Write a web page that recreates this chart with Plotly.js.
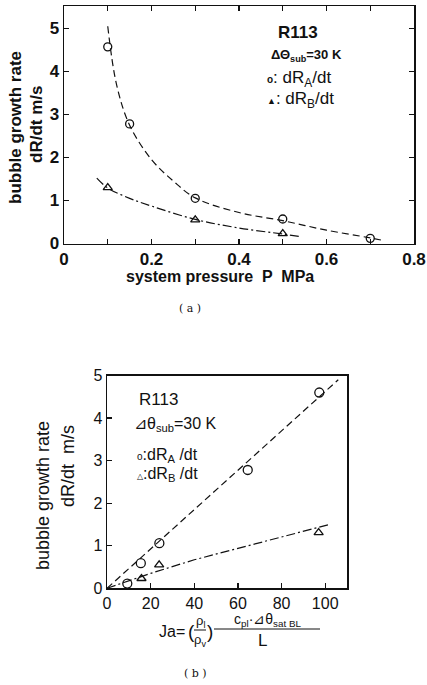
<!DOCTYPE html>
<html>
<head>
<meta charset="utf-8">
<script src="https://cdn.plot.ly/plotly-3.0.1.min.js"></script>
<style>html,body{margin:0;padding:0;background:#fff;}#chart{width:427px;height:685px;}</style>
</head>
<body>
<div id="chart"></div>
<script>
// ---- Panel (a): bubble growth rate vs system pressure ----
const pressureA = [0.10, 0.15, 0.30, 0.50, 0.70];
const rateA_vsP = [4.57, 2.78, 1.05, 0.57, 0.12];
const pressureB = [0.10, 0.30, 0.50];
const rateB_vsP = [1.30, 0.55, 0.23];
const curveA_P = [0.10, 0.12, 0.15, 0.20, 0.25, 0.30, 0.40, 0.50, 0.60, 0.70, 0.73];
const curveA_R = [5.05, 3.70, 2.75, 1.95, 1.45, 1.06, 0.72, 0.53, 0.31, 0.13, 0.07];
const curveB_P = [0.075, 0.10, 0.15, 0.20, 0.30, 0.40, 0.50, 0.54];
const curveB_R = [1.52, 1.29, 1.05, 0.87, 0.56, 0.36, 0.22, 0.16];
const xTickValsA = [0, 0.1, 0.2, 0.3, 0.4, 0.5, 0.6, 0.7, 0.8];
const xTickTextA = ["0", "", "0.2", "", "0.4", "", "0.6", "", "0.8"];
const yTickValsA = [0, 1, 2, 3, 4, 5];

// ---- Panel (b): bubble growth rate vs Jakob number ----
const jaA = [9.3, 15.5, 24.0, 64.5, 97.3];
const rateA_vsJa = [0.11, 0.59, 1.06, 2.78, 4.60];
const jaB = [15.8, 23.9, 97.0];
const rateB_vsJa = [0.23, 0.55, 1.31];
const lineA_Ja = [0, 106];
const lineA_R = [0, 4.9];
const lineB_Ja = [0, 20, 40, 60, 80, 102];
const lineB_R = [0, 0.35, 0.67, 0.94, 1.22, 1.50];
const xTickValsB = [0, 20, 40, 60, 80, 100];
const yTickValsB = [0, 1, 2, 3, 4, 5];

const fontA = {family: "Liberation Sans, Arial, sans-serif", size: 17, color: "#111", weight: "bold"};
const fontB = {family: "Liberation Sans, Arial, sans-serif", size: 16, color: "#111"};

const mk = (sym, sz) => ({symbol: sym, size: sz, color: "#111", line: {color: "#111", width: 1.3}});

const traces = [
  {x: curveA_P, y: curveA_R, xaxis: "x", yaxis: "y", mode: "lines", line: {color: "#111", width: 1.2, dash: "7px,4px", shape: "spline"}},
  {x: curveB_P, y: curveB_R, xaxis: "x", yaxis: "y", mode: "lines", line: {color: "#111", width: 1.2, dash: "9px,3px,2px,3px", shape: "spline"}},
  {x: pressureA, y: rateA_vsP, xaxis: "x", yaxis: "y", mode: "markers", marker: mk("circle-open", 8)},
  {x: pressureB, y: rateB_vsP, xaxis: "x", yaxis: "y", mode: "markers", marker: mk("triangle-up-open", 8)},
  {x: lineA_Ja, y: lineA_R, xaxis: "x2", yaxis: "y2", mode: "lines", line: {color: "#111", width: 1.2, dash: "7px,4px"}},
  {x: lineB_Ja, y: lineB_R, xaxis: "x2", yaxis: "y2", mode: "lines", line: {color: "#111", width: 1.2, dash: "9px,3px,2px,3px"}},
  {x: jaA, y: rateA_vsJa, xaxis: "x2", yaxis: "y2", mode: "markers", marker: mk("circle-open", 9)},
  {x: jaB, y: rateB_vsJa, xaxis: "x2", yaxis: "y2", mode: "markers", marker: mk("triangle-up-open", 8)}
];

const W = 427, H = 685;
const px = (v) => v / W;
const py = (v) => 1 - v / H;

const axisCommon = {showgrid: false, zeroline: false, showline: true, linecolor: "#111", linewidth: 1.5,
  ticks: "inside", ticklen: 5, tickwidth: 1.3, tickcolor: "#111", fixedrange: true};

const annA = (x, y, text, opts) => Object.assign({xref: "paper", yref: "paper", x: px(x), y: py(y), text: text,
  showarrow: false, xanchor: "center", yanchor: "middle", font: fontA}, opts || {});
const annB = (x, y, text, opts) => Object.assign({xref: "paper", yref: "paper", x: px(x), y: py(y), text: text,
  showarrow: false, xanchor: "center", yanchor: "middle", font: fontB}, opts || {});
const fb = (size) => Object.assign({}, fontB, {size: size});
const fa = (size) => Object.assign({}, fontA, {size: size});

const layout = {
  width: W, height: H,
  margin: {l: 0, r: 0, t: 0, b: 0},
  paper_bgcolor: "#fff", plot_bgcolor: "#fff",
  showlegend: false,
  xaxis: Object.assign({}, axisCommon, {domain: [px(64), px(414)], range: [0, 0.8], anchor: "y",
    tickvals: xTickValsA, ticktext: xTickTextA, mirror: "allticks", tickfont: fontA, ticklabelstandoff: 0}),
  yaxis: Object.assign({}, axisCommon, {domain: [py(243.5), py(6)], range: [0, 5.52], anchor: "x",
    tickvals: yTickValsA, mirror: "allticks", tickfont: fontA}),
  xaxis2: Object.assign({}, axisCommon, {domain: [px(107), px(347)], range: [0, 110], anchor: "y2",
    tickvals: xTickValsB, mirror: true, tickfont: fontB, ticklabelstandoff: 0}),
  yaxis2: Object.assign({}, axisCommon, {domain: [py(588.3), py(375.5)], range: [0, 5], anchor: "x2",
    tickvals: yTickValsB, mirror: true, tickfont: fontB}),
  annotations: [
    // panel (a)
    annA(15, 128, "bubble growth rate", {textangle: -90, font: fa(17)}),
    annA(36, 125, "dR/dt m/s", {textangle: -90, font: fa(17)}),
    annA(220, 277, "system pressure  P  MPa", {font: fa(16)}),
    annA(190, 308, "( a )", {font: {family: "DejaVu Serif, serif", size: 11, color: "#111"}}),
    annA(298, 33, "R113", {font: fa(17)}),
    annA(269, 55, "ΔΘ<sub>sub</sub>=30 K", {xanchor: "left", font: fa(13)}),
    annA(265, 79, "<span style='font-size:10px'><b>o</b></span>: dR<sub>A</sub>/dt", {xanchor: "left", font: fb(17)}),
    annA(265, 100, "<span style='font-size:9px'>▲</span>: dR<sub>B</sub>/dt", {xanchor: "left", font: fb(17)}),
    // panel (b)
    annB(43, 496, "bubble growth rate", {textangle: -90, font: fb(18)}),
    annB(68, 466, "dR/dt  m/s", {textangle: -90, font: fb(18)}),
    annB(158, 400, "R113", {font: fb(17)}),
    annB(132, 424, "⊿θ<sub>sub</sub>=30 K", {xanchor: "left", font: fb(16)}),
    annB(135, 455, "<span style='font-size:10px'>o</span>:dR<sub>A</sub> /dt", {xanchor: "left", font: fb(16)}),
    annB(135, 474, "<span style='font-size:8px'>△</span>:dR<sub>B</sub> /dt", {xanchor: "left", font: fb(16)}),
    annB(187, 631, "Ja=", {xanchor: "right", font: fb(16)}),
    annB(191, 631, "(", {font: fb(19)}),
    annB(200, 621, "ρ<sub>l</sub>", {font: fb(13)}),
    annB(200, 640, "ρ<sub>v</sub>", {font: fb(13)}),
    annB(210, 631, ")", {font: fb(19)}),
    annB(267, 620, "c<sub>pl</sub>·⊿θ<sub>sat BL</sub>", {font: fb(14)}),
    annB(262, 640, "L", {font: fb(17)}),
    annB(195, 673, "( b )", {font: {family: "DejaVu Serif, serif", size: 11, color: "#111"}})
  ],
  shapes: [
    {type: "line", xref: "paper", yref: "paper", x0: px(194), x1: px(206), y0: py(630), y1: py(630), line: {color: "#111", width: 1}},
    {type: "line", xref: "paper", yref: "paper", x0: px(214), x1: px(320), y0: py(629), y1: py(629), line: {color: "#111", width: 1}}
  ]
};

Plotly.newPlot("chart", traces, layout, {displayModeBar: false, staticPlot: true});
</script>
</body>
</html>
